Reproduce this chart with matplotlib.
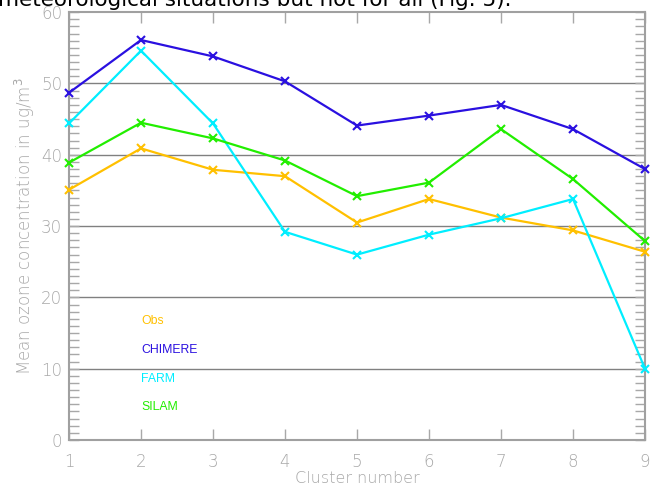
import matplotlib
matplotlib.use("Agg")
import matplotlib.pyplot as plt
from matplotlib.ticker import MultipleLocator

clusters = [1, 2, 3, 4, 5, 6, 7, 8, 9]
obs = [35.1, 40.9, 37.9, 37.0, 30.5, 33.8, 31.2, 29.4, 26.4]
chimere = [48.7, 56.1, 53.8, 50.3, 44.1, 45.5, 47.0, 43.6, 38.0]
farm = [44.4, 54.6, 44.4, 29.2, 26.0, 28.8, 31.1, 33.8, 10.0]
silam = [38.9, 44.5, 42.3, 39.2, 34.2, 36.1, 43.6, 36.6, 27.9]
series_names = ["Obs", "CHIMERE", "FARM", "SILAM"]
colors = ["#FFC000", "#2A10E0", "#00EEFF", "#22EE00"]
label_y = [16.7, 12.6, 8.6, 4.6]

W, H = 659, 486
fig = plt.figure(figsize=(W / 100, H / 100), dpi=100)
ax = fig.add_axes([69 / W, (H - 440) / H, (645 - 69) / W, (440 - 12.2) / H])

for vals, c in zip([obs, chimere, farm, silam], colors):
    ax.plot(clusters, vals, color=c, lw=1.6, marker="x", ms=5.5, mew=1.5,
            clip_on=False, zorder=3)

for name, c, yy in zip(series_names, colors, label_y):
    ax.text(2, yy, name, color=c, fontsize=8.8, ha="left", va="center",
            family="Liberation Sans")

gray = "#A8A8A8"
tfont = dict(family="DejaVu Sans", weight="light")
ax.set_xlim(1, 9)
ax.set_ylim(0, 60)
for y in [10, 20, 30, 40, 50]:
    ax.axhline(y, color="#808080", lw=1.0, zorder=1)

for s in ax.spines.values():
    s.set_color("#A0A0A0")
    s.set_linewidth(1.5)

ax.xaxis.set_major_locator(MultipleLocator(1))
ax.yaxis.set_major_locator(MultipleLocator(10))
ax.yaxis.set_minor_locator(MultipleLocator(1))
ax.tick_params(axis="x", which="major", direction="in", length=8, width=1,
               color=gray, top=True, labelcolor=gray, labelsize=12, pad=9)
ax.tick_params(axis="y", which="both", direction="in", length=7, width=1,
               color=gray, right=True, labelcolor=gray, labelsize=12, pad=5)
for lab in ax.get_xticklabels() + ax.get_yticklabels():
    lab.set_fontfamily("DejaVu Sans")
    lab.set_fontweight("light")

ax.set_xlabel("Cluster number", color=gray, fontsize=11.5, **tfont)
ax.xaxis.set_label_coords(0.5, -(478 - 440) / (440 - 12.2))
ax.xaxis.label.set_va("center")
ax.set_ylabel("Mean ozone concentration in ug/m$^3$", color=gray, fontsize=12,
              **tfont)
ax.yaxis.set_label_coords(-(69 - 25) / (645 - 69), 0.5)
ax.yaxis.label.set_va("center")

fig.text(-2 / W, 1 - 6.5 / H, "meteorological situations but not for all (Fig. 5).",
         fontsize=15.5, color="black", ha="left", va="baseline")

fig.savefig("out.png", dpi=100)
